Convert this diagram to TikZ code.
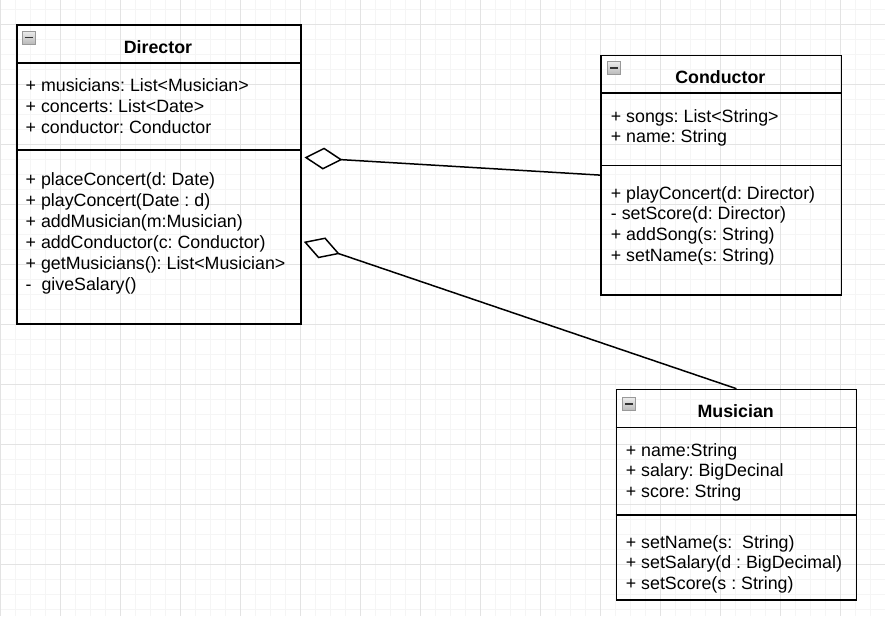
\documentclass[tikz,border=0pt]{standalone}
\usepackage{fontspec}
\setmainfont{Liberation Sans}
\usetikzlibrary{arrows.meta}
\frenchspacing

\tikzset{
  classbox/.style={draw,line width=1.5pt,inner sep=0,anchor=north west},
  sep/.style={line width=1.5pt},
  title/.style={font=\bfseries\fontsize{17.8}{21}\selectfont,anchor=base,inner sep=0},
  member/.style={font=\fontsize{17.8}{21}\selectfont,anchor=base west,inner sep=0},
  icon/.style={draw=gray!80,line width=0.8pt,minimum size=13pt,inner sep=0,
    top color=gray!15,bottom color=gray!55,
    path picture={\draw[line width=1.8pt,gray!40!black]
      ([xshift=2.5pt]path picture bounding box.west) -- ([xshift=-2.5pt]path picture bounding box.east);}},
  aggr/.style={line width=1.5pt,{Diamond[fill=white,length=38pt,width=22pt]}-},
  minorgrid/.style={black!4,line width=1pt},
  majorgrid/.style={black!11,line width=1pt}
}

\begin{document}
\begin{tikzpicture}[x=1pt,y=-1pt]
  \useasboundingbox (0,0) rectangle (885,616);

  % background grid
  \foreach \x in {0,15,...,885} \draw[minorgrid] (\x,0) -- (\x,616);
  \foreach \y in {9,24,...,616} \draw[minorgrid] (0,\y) -- (885,\y);
  \foreach \x in {0,60,...,885} \draw[majorgrid] (\x,0) -- (\x,616);
  \foreach \y in {24,84,...,616} \draw[majorgrid] (0,\y) -- (885,\y);

  % Director
  \node[classbox,minimum width=284pt,minimum height=299pt] (director) at (16,24) {};
  \draw[sep] (16,63) -- (300,63);
  \draw[sep] (16,150) -- (300,150);
  \node[icon] (director-icon) at (28.5,37.5) {};
  \node[title] (director-title) at (158,53) {Director};
  \foreach [count=\i] \txt in {+ musicians: List<Musician>, + concerts: List<Date>,
      + conductor: Conductor}
    \node[member] (director-a\i) at (25.5,{70+21*\i}) {\txt};
  \foreach [count=\i] \txt in {+ placeConcert(d: Date), + playConcert(Date : d),
      + addMusician(m:Musician), + addConductor(c: Conductor),
      + getMusicians(): List<Musician>, -\ \ giveSalary()}
    \node[member] (director-m\i) at (25.5,{164+21*\i}) {\txt};

  % Conductor
  \node[classbox,minimum width=240.7pt,minimum height=239.3pt] (conductor) at (600,54.7) {};
  \draw[sep] (600,93) -- (840.7,93);
  \draw[sep] (600,165.7) -- (840.7,165.7);
  \node[icon] (conductor-icon) at (614,68) {};
  \node[title] (conductor-title) at (720.3,83) {Conductor};
  \foreach [count=\i] \txt in {+ songs: List<String>, + name: String}
    \node[member] (conductor-a\i) at (610.7,{101.2+20.8*\i}) {\txt};
  \foreach [count=\i] \txt in {+ playConcert(d: Director), - setScore(d: Director),
      + addSong(s: String), + setName(s: String)}
    \node[member] (conductor-m\i) at (610.7,{178.2+20.8*\i}) {\txt};

  % Musician
  \node[classbox,minimum width=240pt,minimum height=210.3pt] (musician) at (615.7,388.7) {};
  \draw[sep] (615.7,427.7) -- (855.7,427.7);
  \draw[sep] (615.7,515) -- (855.7,515);
  \node[icon] (musician-icon) at (629,404) {};
  \node[title] (musician-title) at (735.7,417) {Musician};
  \foreach [count=\i] \txt in {+ name:String, + salary: BigDecinal, + score: String}
    \node[member] (musician-a\i) at (625.7,{435.2+20.8*\i}) {\txt};
  \foreach [count=\i] \txt in {+ setName(s:\ \ String), + setSalary(d : BigDecimal),
      + setScore(s : String)}
    \node[member] (musician-m\i) at (625.7,{527.2+20.8*\i}) {\txt};

  % aggregations
  \draw[aggr] ([shift={(3,-16.8)}]director.east) -- (conductor.west);
  \draw[aggr] ([shift={(2.3,67.5)}]director.east) -- (musician.north);
\end{tikzpicture}
\end{document}
